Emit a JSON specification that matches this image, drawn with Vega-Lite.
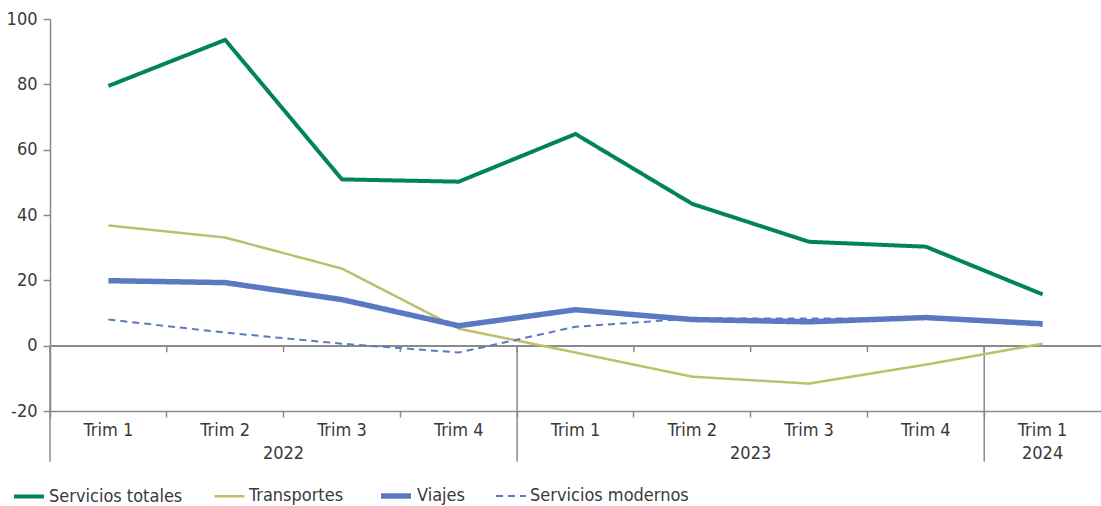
{
  "$schema": "https://vega.github.io/schema/vega-lite/v6.json",
  "width": 1051,
  "height": 392,
  "autosize": {"type": "none"},
  "padding": {"left": 50, "top": 19, "right": 0, "bottom": 95},
  "config": {
    "view": {"stroke": null},
    "font": "DejaVu Sans Condensed, sans-serif",
    "axis": {"labelFont": "DejaVu Sans Condensed, sans-serif", "labelFontSize": 18, "labelColor": "#3a3a3a", "domainColor": "#8a8a8a", "tickColor": "#8a8a8a", "domainWidth": 1.5, "tickWidth": 1.5, "grid": false, "title": null},
    "legend": {"labelFont": "DejaVu Sans Condensed, sans-serif", "labelFontSize": 18, "labelColor": "#3a3a3a"}
  },
  "data": {
    "values": [
      {"q": "2022-T1", "serie": "Servicios totales", "v": 79.5},
      {"q": "2022-T2", "serie": "Servicios totales", "v": 93.6},
      {"q": "2022-T3", "serie": "Servicios totales", "v": 50.9},
      {"q": "2022-T4", "serie": "Servicios totales", "v": 50.2},
      {"q": "2023-T1", "serie": "Servicios totales", "v": 64.8},
      {"q": "2023-T2", "serie": "Servicios totales", "v": 43.4},
      {"q": "2023-T3", "serie": "Servicios totales", "v": 31.8},
      {"q": "2023-T4", "serie": "Servicios totales", "v": 30.3},
      {"q": "2024-T1", "serie": "Servicios totales", "v": 15.7},
      {"q": "2022-T1", "serie": "Transportes", "v": 36.8},
      {"q": "2022-T2", "serie": "Transportes", "v": 33.1},
      {"q": "2022-T3", "serie": "Transportes", "v": 23.6},
      {"q": "2022-T4", "serie": "Transportes", "v": 5.2},
      {"q": "2023-T1", "serie": "Transportes", "v": -2.1},
      {"q": "2023-T2", "serie": "Transportes", "v": -9.5},
      {"q": "2023-T3", "serie": "Transportes", "v": -11.6},
      {"q": "2023-T4", "serie": "Transportes", "v": -5.8},
      {"q": "2024-T1", "serie": "Transportes", "v": 0.6},
      {"q": "2022-T1", "serie": "Viajes", "v": 19.9},
      {"q": "2022-T2", "serie": "Viajes", "v": 19.3},
      {"q": "2022-T3", "serie": "Viajes", "v": 14.1},
      {"q": "2022-T4", "serie": "Viajes", "v": 6.1},
      {"q": "2023-T1", "serie": "Viajes", "v": 11.0},
      {"q": "2023-T2", "serie": "Viajes", "v": 8.0},
      {"q": "2023-T3", "serie": "Viajes", "v": 7.3},
      {"q": "2023-T4", "serie": "Viajes", "v": 8.6},
      {"q": "2024-T1", "serie": "Viajes", "v": 6.7},
      {"q": "2022-T1", "serie": "Servicios modernos", "v": 8.0},
      {"q": "2022-T2", "serie": "Servicios modernos", "v": 4.0},
      {"q": "2022-T3", "serie": "Servicios modernos", "v": 0.6},
      {"q": "2022-T4", "serie": "Servicios modernos", "v": -2.1},
      {"q": "2023-T1", "serie": "Servicios modernos", "v": 5.8},
      {"q": "2023-T2", "serie": "Servicios modernos", "v": 8.3},
      {"q": "2023-T3", "serie": "Servicios modernos", "v": 8.3},
      {"q": "2023-T4", "serie": "Servicios modernos", "v": 8.3},
      {"q": "2024-T1", "serie": "Servicios modernos", "v": 6.1}
    ]
  },
  "encoding": {
    "x": {
      "field": "q", "type": "ordinal", "bandPosition": 0,
      "scale": {"type": "band", "paddingInner": 0, "paddingOuter": 0},
      "axis": {"bandPosition": 0, "tickSize": 6, "labelPadding": 4, "labelAngle": 0, "labelExpr": "'Trim ' + slice(datum.value, 6)"}
    }
  },
  "layer": [
    {
      "mark": {"type": "rule", "color": "#8a8a8a", "strokeWidth": 1.5},
      "encoding": {"x": null, "y": {"datum": 0, "type": "quantitative", "scale": {"domain": [-20, 100], "nice": false}, "axis": {"values": [-20, 0, 20, 40, 60, 80, 100], "tickSize": 7, "labelPadding": 6, "labelExpr": "replace(datum.label, '−', '-')"}}}
    },
    {
      "transform": [{"filter": "datum.serie == 'Viajes'"}],
      "mark": {"type": "rule", "color": "#8a8a8a", "strokeWidth": 1.5},
      "encoding": {"y": {"datum": 0}, "y2": {"datum": -2}}
    },
    {
      "transform": [{"filter": "datum.serie == 'Viajes' && (datum.q == '2022-T1' || datum.q == '2023-T1' || datum.q == '2024-T1')"}],
      "mark": {"type": "rule", "color": "#8a8a8a", "strokeWidth": 1.5},
      "encoding": {"y": {"datum": 0}, "y2": {"datum": -35.5}}
    },
    {
      "encoding": {
        "x": {"field": "q", "type": "ordinal", "bandPosition": 0.5},
        "y": {"field": "v", "type": "quantitative"},
        "color": {"field": "serie", "type": "nominal", "sort": ["Servicios totales", "Transportes", "Viajes", "Servicios modernos"],
          "scale": {"domain": ["Servicios totales", "Transportes", "Viajes", "Servicios modernos"], "range": ["#008558", "#bdbf6b", "#5b79c2", "#5b79c2"]},
          "legend": {"orient": "none", "legendX": -38, "legendY": 459, "direction": "horizontal", "title": null, "symbolType": "stroke", "symbolSize": 900, "labelOffset": 3, "columnPadding": 26, "labelLimit": 300}},
        "strokeWidth": {"field": "serie", "type": "nominal", "sort": ["Servicios totales", "Transportes", "Viajes", "Servicios modernos"],
          "scale": {"type": "ordinal", "domain": ["Servicios totales", "Transportes", "Viajes", "Servicios modernos"], "range": [4, 2.5, 5.5, 2]}},
        "strokeDash": {"field": "serie", "type": "nominal", "sort": ["Servicios totales", "Transportes", "Viajes", "Servicios modernos"],
          "scale": {"domain": ["Servicios totales", "Transportes", "Viajes", "Servicios modernos"], "range": [[1, 0], [1, 0], [1, 0], [7, 5]]}}
      },
      "layer": [
        {
          "transform": [{"filter": "datum.serie != 'Servicios modernos'"}],
          "mark": {"type": "line", "strokeCap": "butt"}
        },
        {
          "transform": [{"filter": "datum.serie == 'Servicios modernos'"}],
          "mark": {"type": "line", "strokeCap": "butt"}
        }
      ]
    },
    {
      "transform": [{"filter": "datum.serie == 'Viajes' && (datum.q == '2022-T3' || datum.q == '2023-T3')"}, {"calculate": "slice(datum.q, 0, 4)", "as": "year"}],
      "mark": {"type": "text", "fontSize": 18, "color": "#3a3a3a", "baseline": "middle", "align": "center"},
      "encoding": {"y": {"datum": -33.3}, "text": {"field": "year"}}
    },
    {
      "transform": [{"filter": "datum.serie == 'Viajes' && datum.q == '2024-T1'"}, {"calculate": "slice(datum.q, 0, 4)", "as": "year"}],
      "mark": {"type": "text", "fontSize": 18, "color": "#3a3a3a", "baseline": "middle", "align": "center"},
      "encoding": {"x": {"field": "q", "type": "ordinal", "bandPosition": 0.5}, "y": {"datum": -33.3}, "text": {"field": "year"}}
    }
  ]
}
